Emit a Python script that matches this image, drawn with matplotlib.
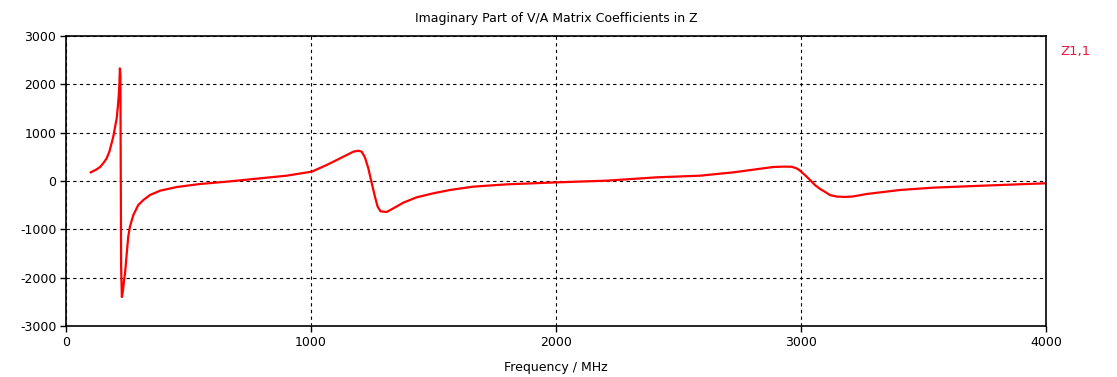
import matplotlib
matplotlib.use("Agg")
import matplotlib.pyplot as plt

freq_mhz = [101, 112, 125, 139, 152, 166, 177, 186, 193, 200, 207, 211, 215, 218,
            220, 222, 225, 228, 233, 237, 241, 248, 254, 261, 275, 295, 316, 343,
            384, 452, 547, 656, 751, 792, 900, 1003, 1064, 1105, 1146, 1173, 1193,
            1207, 1220, 1234, 1248, 1261, 1272, 1284, 1309, 1336, 1377, 1431, 1499,
            1567, 1662, 1799, 2003, 2207, 2411, 2588, 2724, 2887, 2928, 2962, 2982,
            2996, 3016, 3037, 3057, 3078, 3098, 3118, 3146, 3180, 3212, 3268, 3404,
            3539, 3676, 3812, 3996]
imag_z11 = [179, 207, 241, 290, 366, 469, 607, 779, 917, 1110, 1297, 1504, 1745,
            2021, 2331, 2200, -1780, -2400, -2250, -2050, -1910, -1497, -1152, -945,
            -703, -497, -393, -290, -200, -125, -62, -14, 34, 55, 110, 193, 331, 434,
            538, 607, 627, 607, 490, 262, -48, -324, -531, -628, -641, -566, -448,
            -338, -255, -186, -117, -69, -28, 7, 76, 110, 179, 290, 297, 295, 262,
            214, 124, 21, -83, -165, -225, -290, -322, -330, -320, -269, -186, -138,
            -110, -83, -48]

x_ticks = [0, 1000, 2000, 3000, 4000]
y_ticks = [-3000, -2000, -1000, 0, 1000, 2000, 3000]

plt.rcParams['font.family'] = ['DejaVu Sans']
plt.rcParams['axes.unicode_minus'] = False
fig = plt.figure(figsize=(11.17, 3.77), dpi=100)
fig.patch.set_facecolor('white')
ax = fig.add_axes([66/1117, 51/377, 980/1117, 290/377])

ax.plot(freq_mhz, imag_z11, color='#ff0000', linewidth=1.6)

ax.set_xlim(0, 4000)
ax.set_ylim(-3000, 3000)
ax.set_xticks(x_ticks)
ax.set_yticks(y_ticks)
ax.tick_params(direction='out', length=4, width=1, labelsize=9, color='black', pad=3)
ax.grid(True, color='black', linestyle=(0, (3, 3)), linewidth=0.8)
for s in ax.spines.values():
    s.set_linewidth(1.2)
    s.set_color('black')

ax.set_title('Imaginary Part of V/A Matrix Coefficients in Z', fontsize=9, pad=10)
ax.set_xlabel('Frequency / MHz', fontsize=9, labelpad=9)
fig.text(1060/1117, 1 - 52/377, 'Z1,1', color='#e8173f', fontsize=9.5, va='center', ha='left')

fig.savefig('out.png', dpi=100)
